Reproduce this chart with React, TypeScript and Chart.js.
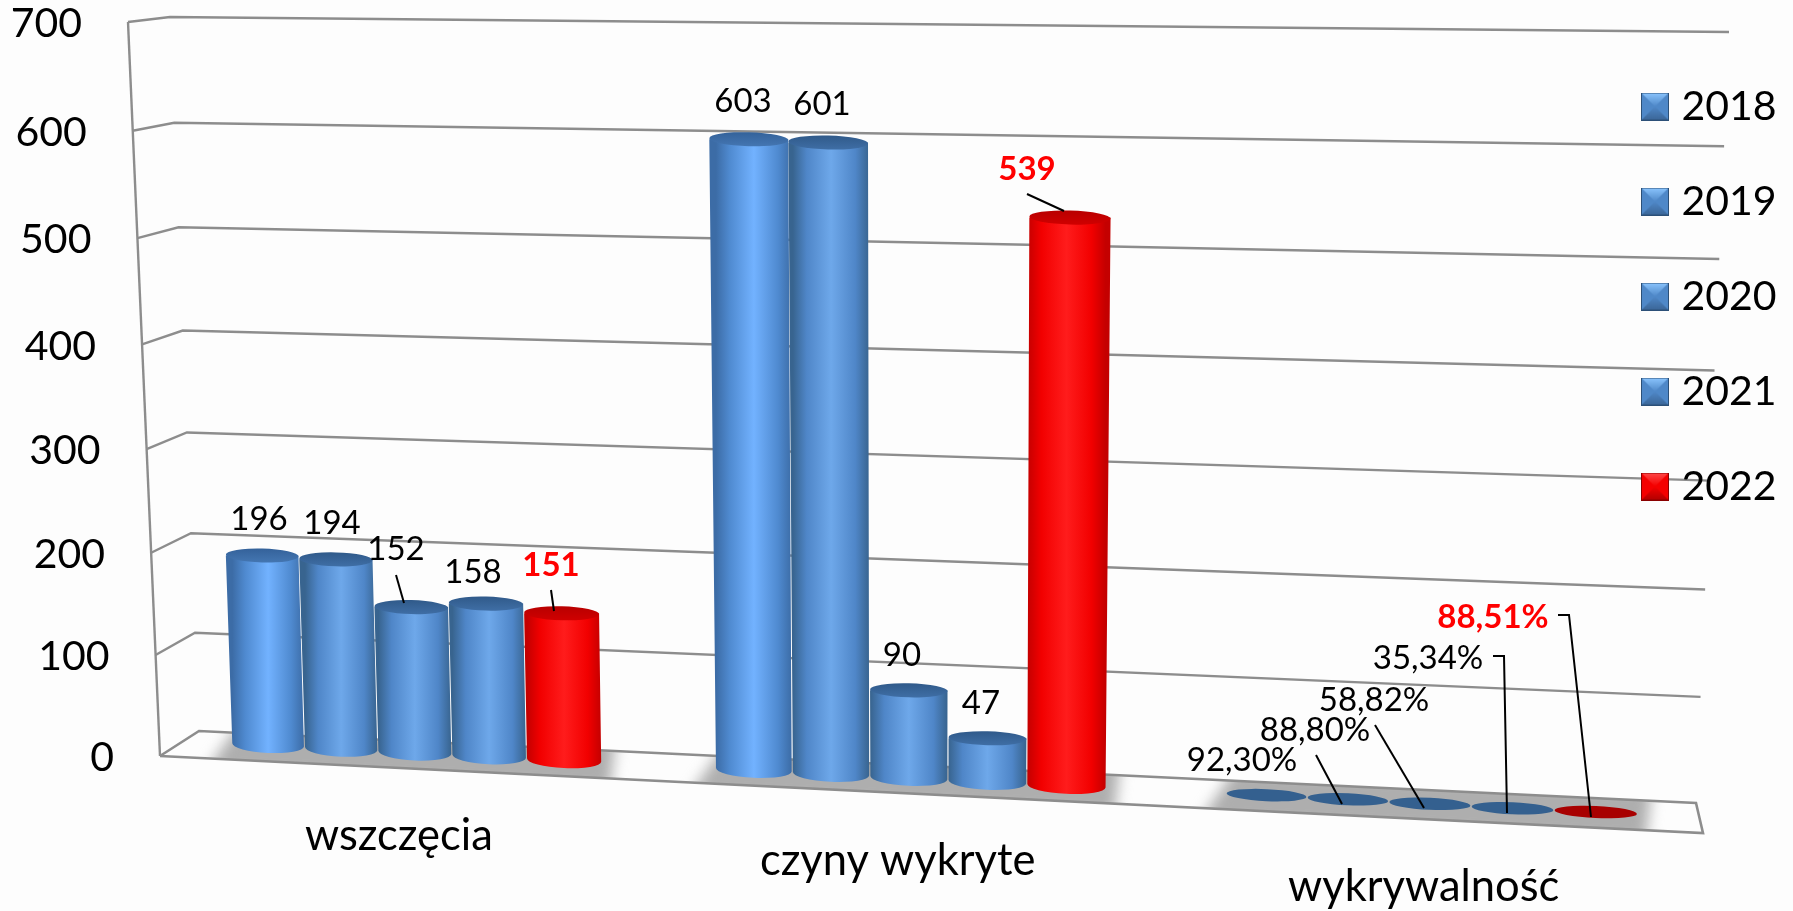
import React, { useEffect, useRef } from "react";
import { Chart, BarController, BarElement, CategoryScale, LinearScale, Legend } from "chart.js";

// ---- data ----
const categories = ["wszczęcia", "czyny wykryte", "wykrywalność"];
const years = ["2018", "2019", "2020", "2021", "2022"];
const values2018 = [196, 603, 0.923];
const values2019 = [194, 601, 0.888];
const values2020 = [152, 90, 0.5882];
const values2021 = [158, 47, 0.3534];
const values2022 = [151, 539, 0.8851];
const seriesValues = [values2018, values2019, values2020, values2021, values2022];
const yTicks = { min: 0, max: 700, step: 100 };

// ---- layout of the labels (not data) ----
const labelAnchors = [
  [[259, 519], [743, 101], [1242, 760]],
  [[332, 523], [822, 104], [1315, 730]],
  [[396, 549], [902, 655], [1374, 700]],
  [[473, 572], [981, 703], [1428, 658]],
  [[551, 565], [1027, 169], [1493, 617]],
];
const leaders = [
  [[396, 575], [404, 603]],
  [[551, 590], [554, 611]],
  [[1027, 194], [1064, 211]],
  [[1316, 755], [1342, 804]],
  [[1375, 725], [1424, 808]],
  [[1493, 656], [1504, 656], [1507, 813]],
  [[1558, 615], [1569, 615], [1591, 817]],
];

const FONT = "Lato, 'Open Sans', sans-serif";
const GRID = "#8d8d8d";
const BG = "#fdfdfd";

// ---- the perspective of the 3D plot ----
const warp = (f: number) => 0.9571 * f + 0.0429 * f * f;
const frontX = (t: number) => 160 - 32 * t;
const backLeft = (t: number) => [199 - 29 * t, 731 - 714 * t];
const backRight = (t: number) => [1696 + 33 * t, 803 - 771 * t];
const floorFrontY = (x: number) => 756 + ((x - 160) * 77) / 1543;
const floorBackY = (x: number) => 731 + ((x - 199) * 72) / 1497;
const uToX = (u: number) => 178 + 1401 * u + 121.5 * u * u;
const baseY = (x: number) => 745 + 0.0512 * (x - 269);
const planeH = (x: number) => 700 + 0.0763 * (x - 269) - 5.95e-5 * (x - 269) * (x - 754);
const lean = (x: number) => (x - 930) * 0.0335;
const lowBarTrim = (t: number) => (t <= 0.22 ? 4.5 : t >= 0.27 ? 0.5 : 4.5 - ((t - 0.22) / 0.05) * 4);

class PerspLinear extends LinearScale {
  static id = "perspLinear";
  getPixelForValue(v: number) {
    const f = (v - this.min) / (this.max - this.min);
    return this.bottom - warp(f) * (this.bottom - this.top);
  }
  _computeLabelArea() {
    return undefined;
  }
  _computeLabelItems(area: any) {
    const items = super._computeLabelItems(area);
    items.forEach((it: any) => {
      const y = it.options.translation[1];
      const t = (this.bottom - y) / (this.bottom - this.top);
      it.options.translation = [frontX(t) - 46, y + 2];
      it.options.textAlign = "right";
      it.options.textBaseline = "middle";
    });
    return items;
  }
}

class PerspCategory extends CategoryScale {
  static id = "perspCategory";
  _computeLabelArea() {
    return undefined;
  }
  _computeLabelItems(area: any) {
    const items = super._computeLabelItems(area);
    const chartArea = this.chart.chartArea;
    items.forEach((it: any) => {
      const u = (it.options.translation[0] - chartArea.left) / chartArea.width;
      const x = uToX(u);
      const lx = x - 16 + (x - 415) * 0.0097;
      it.options.translation = [lx, floorFrontY(lx) + 42];
      it.options.textAlign = "center";
      it.options.textBaseline = "middle";
    });
    return items;
  }
}

Chart.register(BarController, BarElement, CategoryScale, LinearScale, Legend, PerspLinear, PerspCategory);

function palette(i: number) {
  if (i === 4)
    return { edge: "#c40000", mid: "#f20000", high: "#ff1c1c", cap: "#d00000", capDark: "#b80000", disc: "#a80000" };
  if (i === 0)
    return { edge: "#3c6ca6", mid: "#4f8ad0", high: "#72b2ff", cap: "#4476b2", capDark: "#34629a", disc: "#34608f" };
  return { edge: "#38648f", mid: "#4f86c8", high: "#6ea8ea", cap: "#3f6ea5", capDark: "#305a8a", disc: "#34608f" };
}

function swatch(i: number) {
  const c = document.createElement("canvas");
  c.width = 28;
  c.height = 28;
  const g = c.getContext("2d")!;
  const red = i === 4;
  const tri = (pts: number[][], col: any) => {
    g.fillStyle = col;
    g.beginPath();
    pts.forEach((p, k) => (k ? g.lineTo(p[0], p[1]) : g.moveTo(p[0], p[1])));
    g.closePath();
    g.fill();
  };
  const m = [14, 14];
  const face = red ? "#f40000" : "#4f88c8";
  g.fillStyle = face;
  g.fillRect(0, 0, 28, 28);
  const top = g.createLinearGradient(0, 0, 0, 14);
  top.addColorStop(0, red ? "#ff4a4a" : "#8cc6ff");
  top.addColorStop(1, face);
  tri([[0, 0], [28, 0], m], top);
  const bottom = g.createLinearGradient(0, 14, 0, 28);
  bottom.addColorStop(0, face);
  bottom.addColorStop(1, red ? "#b00000" : "#3a6596");
  tri([[0, 28], [28, 28], m], bottom);
  g.strokeStyle = red ? "#8a0000" : "#2c5078";
  g.lineWidth = 1;
  g.strokeRect(0.5, 0.5, 27, 27);
  return c;
}

function line(ctx: CanvasRenderingContext2D, pts: number[][]) {
  ctx.beginPath();
  pts.forEach((p, k) => (k ? ctx.lineTo(p[0], p[1]) : ctx.moveTo(p[0], p[1])));
  ctx.stroke();
}

const scene = {
  id: "scene",
  afterLayout(chart: any) {
    const lg = chart.legend;
    const w = lg.width;
    lg.left = 1595;
    lg.right = 1595 + w;
    lg.top = 32;
    lg.bottom = 32 + lg.height;
  },
  beforeDraw(chart: any) {
    const ctx: CanvasRenderingContext2D = chart.ctx;
    const y = chart.scales.y;
    const tOf = (px: number) => (y.bottom - px) / (y.bottom - y.top);
    ctx.save();
    ctx.fillStyle = BG;
    ctx.fillRect(0, 0, chart.width, chart.height);
    ctx.strokeStyle = GRID;
    ctx.lineWidth = 2.4;
    ctx.lineJoin = "miter";
    // left front edge
    line(ctx, [[frontX(0), y.bottom], [frontX(1), y.top]]);
    y.ticks.forEach((tick: any) => {
      const px = y.getPixelForValue(tick.value);
      const t = tOf(px);
      if (t > 0.001) line(ctx, [[frontX(t), px], backLeft(t), backRight(t)]);
    });
    ctx.restore();
  },
  beforeDatasetsDraw(chart: any) {
    const ctx: CanvasRenderingContext2D = chart.ctx;
    const y = chart.scales.y;
    const area = chart.chartArea;
    const tOf = (px: number) => (y.bottom - px) / (y.bottom - y.top);
    const toU = (px: number) => (px - area.left) / area.width;
    const metas = chart.data.datasets.map((_: any, i: number) => chart.getDatasetMeta(i));

    const floorL = 160, floorR = 1703;
    const floor = () => {
      ctx.beginPath();
      ctx.moveTo(floorL, floorFrontY(floorL));
      ctx.lineTo(floorR, floorFrontY(floorR));
      ctx.lineTo(1696, floorBackY(1696));
      ctx.lineTo(199, floorBackY(199));
      ctx.closePath();
    };

    // floor shadows, one per category
    ctx.save();
    floor();
    ctx.clip();
    ctx.filter = "blur(7px)";
    ctx.fillStyle = "#aeaeae";
    chart.data.labels.forEach((_: any, j: number) => {
      const a = metas[0].data[j], b = metas[metas.length - 1].data[j];
      const x0 = uToX(toU(a.x - a.width / 2)) - 14;
      const x1 = uToX(toU(b.x + b.width / 2)) + 8;
      ctx.beginPath();
      ctx.moveTo(x0 - 12, floorFrontY(x0) + 12);
      ctx.lineTo(x1, floorFrontY(x1) + 12);
      ctx.lineTo(x1 + 6, floorBackY(x1) - 12);
      ctx.lineTo(x0 + 24, floorBackY(x0) - 12);
      ctx.closePath();
      ctx.fill();
    });
    ctx.restore();

    // floor outline
    ctx.save();
    ctx.strokeStyle = GRID;
    ctx.lineWidth = 2.6;
    line(ctx, [
      [floorL, floorFrontY(floorL)],
      [floorR, floorFrontY(floorR)],
      [1696, floorBackY(1696)],
      [199, floorBackY(199)],
      [floorL, floorFrontY(floorL)],
    ]);
    ctx.restore();

    // cylinders
    metas.forEach((meta: any, i: number) => {
      const pal = palette(i);
      meta.data.forEach((el: any) => {
        const xb = uToX(toU(el.x));
        const halfW =
          ((uToX(toU(el.x + el.width / 2)) - uToX(toU(el.x - el.width / 2))) / 2) * 0.985;
        const t = tOf(el.y);
        const yb = baseY(xb);
        const h = t * planeH(xb) - (t > 0.01 ? lowBarTrim(t) : 0);
        const tilt = 0.045;
        if (h < 4) {
          ctx.fillStyle = pal.disc;
          ctx.beginPath();
          ctx.ellipse(xb, yb - h, halfW, 6, tilt, 0, Math.PI * 2);
          ctx.fill();
          return;
        }
        const xt = xb + t * lean(xb);
        const yt = yb - h;
        const rb = halfW;
        const rt = halfW * (1 + 0.05 * t);
        const grad = ctx.createLinearGradient(xb - rb, 0, xb + rb, 0);
        grad.addColorStop(0, pal.edge);
        grad.addColorStop(0.18, pal.mid);
        grad.addColorStop(0.5, pal.high);
        grad.addColorStop(0.82, pal.mid);
        grad.addColorStop(1, pal.edge);
        ctx.fillStyle = grad;
        ctx.beginPath();
        ctx.moveTo(xt - rt, yt);
        ctx.lineTo(xb - rb, yb);
        ctx.ellipse(xb, yb, rb, 8, tilt, Math.PI, 0, true);
        ctx.lineTo(xt + rt, yt);
        ctx.lineTo(xt - rt, yt);
        ctx.closePath();
        ctx.fill();
        const cap = ctx.createLinearGradient(0, yt - 7, 0, yt + 7);
        cap.addColorStop(0, pal.capDark);
        cap.addColorStop(1, pal.cap);
        ctx.fillStyle = cap;
        ctx.beginPath();
        ctx.ellipse(xt, yt, rt, 7, tilt * 0.6, 0, Math.PI * 2);
        ctx.fill();
      });
    });

    // data labels and their leader lines
    ctx.save();
    ctx.strokeStyle = "#000";
    ctx.lineWidth = 2;
    leaders.forEach((pts) => line(ctx, pts));
    ctx.textAlign = "center";
    ctx.textBaseline = "middle";
    chart.data.datasets.forEach((ds: any, i: number) => {
      ds.data.forEach((v: number, j: number) => {
        const text = j === 2 ? (v * 100).toFixed(2).replace(".", ",") + "%" : String(v);
        ctx.font = `${i === 4 ? "bold " : ""}33px ${FONT}`;
        ctx.fillStyle = i === 4 ? "#ff0000" : "#000000";
        const p = labelAnchors[i][j];
        ctx.fillText(text, p[0], p[1]);
      });
    });
    ctx.restore();
    return false;
  },
};

export default function App() {
  const ref = useRef<HTMLCanvasElement>(null);
  useEffect(() => {
    const swatches = years.map((_, i) => swatch(i));
    const chart = new Chart(ref.current!, {
      type: "bar",
      data: {
        labels: categories,
        datasets: years.map((label, i) => ({
          label,
          data: seriesValues[i],
          backgroundColor: i === 4 ? "#ff0000" : "#4f86c6",
          categoryPercentage: 0.77,
          barPercentage: 1,
        })),
      },
      options: {
        responsive: false,
        animation: false,
        devicePixelRatio: 1,
        layout: { padding: { top: 22, bottom: 115, left: 0, right: 0 } },
        plugins: {
          legend: {
            position: "right",
            align: "start",
            labels: {
              usePointStyle: true,
              boxWidth: 12,
              boxHeight: 42,
              padding: 54,
              color: "#000",
              font: { family: FONT, size: 41 },
              generateLabels: (c: any) =>
                c.data.datasets.map((d: any, i: number) => ({
                  text: d.label,
                  pointStyle: swatches[i],
                  fillStyle: d.backgroundColor,
                  strokeStyle: d.backgroundColor,
                  lineWidth: 0,
                  datasetIndex: i,
                  fontColor: "#000",
                })),
            },
          },
          tooltip: { enabled: false },
        },
        scales: {
          x: {
            type: "perspCategory",
            grid: { display: false },
            border: { display: false },
            ticks: { color: "#000", font: { family: FONT, size: 43.5 }, maxRotation: 0, autoSkip: false },
            afterFit: (s: any) => {
              s.height = 40;
              s.paddingLeft = 0;
              s.paddingRight = 0;
            },
          },
          y: {
            type: "perspLinear",
            min: yTicks.min,
            max: yTicks.max,
            grid: { display: false },
            border: { display: false },
            ticks: { stepSize: yTicks.step, color: "#000", font: { family: FONT, size: 41 }, padding: 6 },
            afterFit: (s: any) => {
              s.width = 120;
              s.paddingTop = 0;
              s.paddingBottom = 0;
            },
          },
        },
      } as any,
      plugins: [scene],
    });
    return () => chart.destroy();
  }, []);
  return (
    <div style={{ position: "absolute", left: 0, top: 0, width: 1793, height: 911, overflow: "hidden" }}>
      <canvas ref={ref} width={1793} height={911} style={{ display: "block" }} />
    </div>
  );
}
